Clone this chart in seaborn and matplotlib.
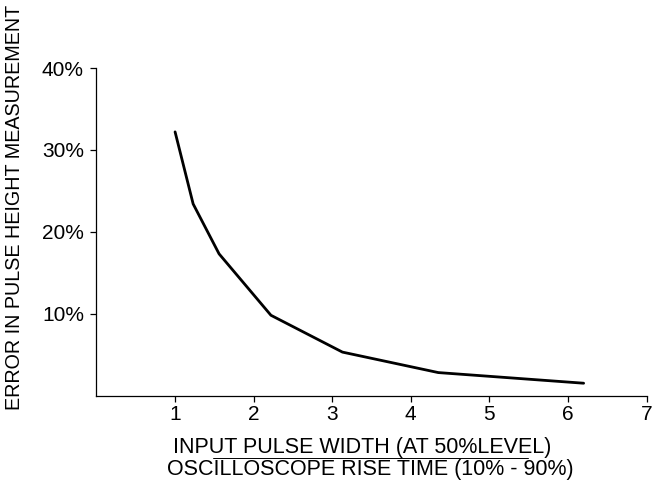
import matplotlib
matplotlib.use('Agg')
import matplotlib.pyplot as plt
from matplotlib.lines import Line2D
import seaborn as sns

# pulse width / rise time ratio vs error in pulse height (%)
ratio = [1.0, 1.23, 1.56, 2.22, 3.13, 4.35, 6.2]
error = [32.2, 23.4, 17.3, 9.8, 5.3, 2.8, 1.5]
xticks = [1, 2, 3, 4, 5, 6, 7]
yticks = [10, 20, 30, 40]
ytick_labels = ['10%', '20%', '30%', '40%']

sns.set_style('ticks')
plt.rcParams['font.family'] = ['Liberation Sans', 'DejaVu Sans']
plt.rcParams['text.color'] = 'black'

W, H = 653, 493
fig = plt.figure(figsize=(W / 100, H / 100), dpi=100)
ax = fig.add_axes([96.5 / W, 1 - 395.5 / H, (646.5 - 96.5) / W, (395.5 - 68) / H])

sns.lineplot(x=ratio, y=error, ax=ax, color='black', linewidth=2.0)

ax.set_xlim(0, 7)
ax.set_ylim(0, 40)
ax.set_xticks(xticks)
ax.set_xticklabels([str(t) for t in xticks])
ax.set_yticks(yticks)
ax.set_yticklabels(ytick_labels)
ax.tick_params(axis='both', length=4, width=0.9, colors='black', labelsize=15)
ax.tick_params(axis='x', pad=3)
ax.tick_params(axis='y', pad=5)
for s in ['top', 'right']:
    ax.spines[s].set_visible(False)
for s in ['left', 'bottom']:
    ax.spines[s].set_linewidth(0.9)
    ax.spines[s].set_color('black')
ax.set_xlabel('')
ax.set_ylabel('')

fig.text(15 / W, 1 - 207 / H, 'ERROR IN PULSE HEIGHT MEASUREMENT', rotation=90,
         ha='center', va='center', fontsize=14.2)
fig.text(362 / W, 1 - 447 / H, 'INPUT PULSE WIDTH (AT 50%LEVEL)',
         ha='center', va='center', fontsize=15.5)
fig.text(370 / W, 1 - 470 / H, 'OSCILLOSCOPE RISE TIME (10% - 90%)',
         ha='center', va='center', fontsize=15.5)
fig.add_artist(Line2D([213 / W, 528 / W], [1 - 458 / H, 1 - 458 / H],
                      transform=fig.transFigure, color='black', linewidth=0.7))

fig.savefig('out.png', dpi=100)
